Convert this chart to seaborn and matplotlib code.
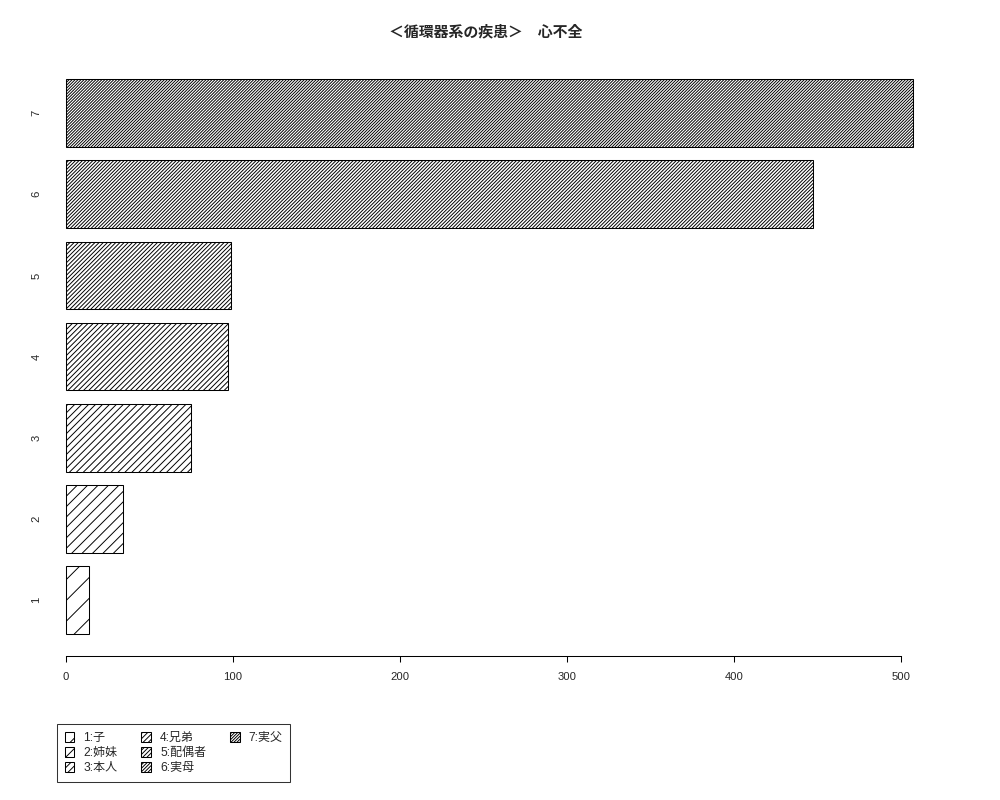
import pandas as pd
import matplotlib
matplotlib.use('Agg')
import matplotlib.pyplot as plt
from matplotlib.patches import Patch
import seaborn as sns

categories = ['1', '2', '3', '4', '5', '6', '7']
values = [14, 34, 75, 97, 99, 447, 507]
legend_labels = ['1:子', '2:姉妹', '3:本人', '4:兄弟', '5:配偶者', '6:実母', '7:実父']
x_ticks = [0, 100, 200, 300, 400, 500]
title = '＜循環器系の疾患＞　心不全'

sns.set_theme(style='white')
plt.rcParams['font.family'] = ['Liberation Sans', 'Noto Sans CJK JP']
plt.rcParams['hatch.linewidth'] = 0.55
plt.rcParams['hatch.color'] = 'black'

df = pd.DataFrame({'group': categories, 'count': values})
# shading gets denser with each group
hatches = {c: '/' * (2 * (i + 1)) for i, c in enumerate(categories)}
order = categories[::-1]

fig = plt.figure(figsize=(8, 6.4), dpi=125)
ax = fig.add_axes([0.032, 0.18, 0.915, 0.7486])

bar_w = 1 / 1.2
sns.barplot(data=df, x='count', y='group', order=order, orient='h',
            width=bar_w, color='white', saturation=1, edgecolor='black',
            linewidth=0.6, errorbar=None, ax=ax)
for patch in ax.containers[0].patches:
    pos = int(round(patch.get_y() + patch.get_height() / 2))
    patch.set_hatch(hatches[order[pos]])
    patch.set_facecolor('white')

# R-style 4% padding on both axes
vmax = max(values)
ax.set_xlim(-0.04 * vmax, 1.04 * vmax)
span = len(categories) - (1 - bar_w)
pad = 0.04 * span
ax.set_ylim(len(categories) - 1 + bar_w / 2 + pad, -bar_w / 2 - pad)

for s in ['top', 'right', 'left']:
    ax.spines[s].set_visible(False)
ax.spines['bottom'].set_bounds(x_ticks[0], x_ticks[-1])
ax.spines['bottom'].set_color('black')
ax.spines['bottom'].set_linewidth(0.6)

ax.set_xticks(x_ticks)
ax.set_xticklabels([str(t) for t in x_ticks])
ax.tick_params(axis='x', bottom=True, direction='out', length=3.5, width=0.6,
               color='black', pad=5.5, labelsize=6.5)
ax.tick_params(axis='y', left=False, length=0, pad=-5.5, labelsize=6.5)
for lab in ax.get_yticklabels():
    lab.set_rotation(90)
    lab.set_va('center')
ax.set_xlabel('')
ax.set_ylabel('')
ax.grid(False)

ax.set_title(title, fontsize=8.6, fontweight='bold', pad=12, x=0.496)

# legend: 3 columns of 3 rows, last column holds only 7
handles = [Patch(facecolor='white', edgecolor='black', linewidth=0.6, hatch=hatches[c])
           for c in categories]
labels = list(legend_labels)
for _ in range(2):
    handles.append(Patch(facecolor='none', edgecolor='none'))
    labels.append('')
leg = fig.legend(handles, labels, ncol=3, loc='lower left',
                 bbox_to_anchor=(0.057, 0.0225), bbox_transform=fig.transFigure,
                 borderaxespad=0, fontsize=6.9, fancybox=False, frameon=True,
                 handlelength=0.8, handleheight=0.8, handletextpad=0.75,
                 labelspacing=0.25, columnspacing=2.0, borderpad=0.65)
leg.get_frame().set_edgecolor('black')
leg.get_frame().set_linewidth(0.6)

fig.savefig('out.png', dpi=125, facecolor='white')
